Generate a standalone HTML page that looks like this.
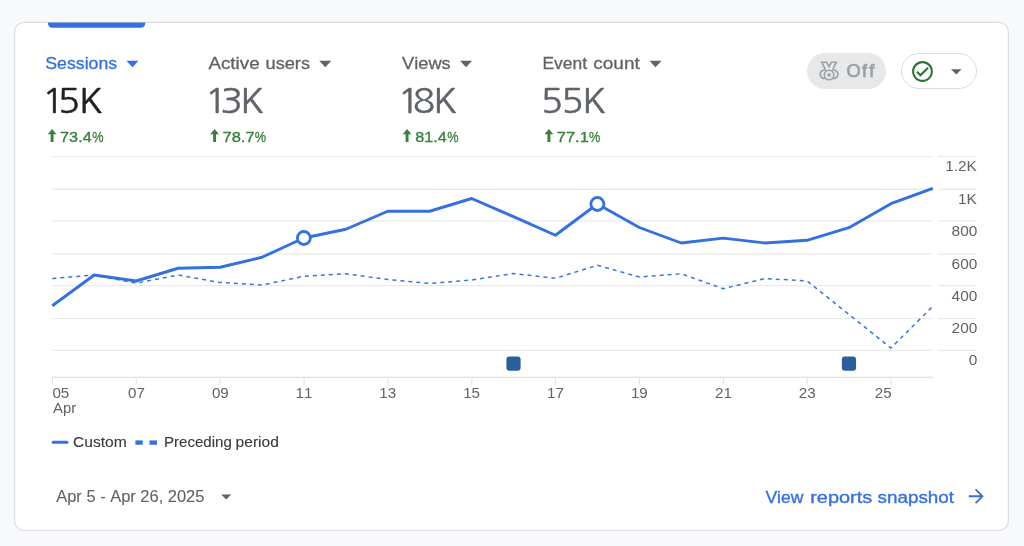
<!DOCTYPE html>
<html lang="en"><head><meta charset="utf-8"><title>Overview</title>
<style>
html,body{margin:0;padding:0}
body{width:1024px;height:546px;overflow:hidden;background:#f8f9fa;position:relative;font-family:"Liberation Sans",sans-serif;}
svg.abs{position:absolute;overflow:visible}
.chart{position:absolute;left:0;top:0}
.pill{position:absolute;left:807.4px;top:53px;width:78.6px;height:35.8px;border-radius:18px;background:#e7e8e9;}
.btn{position:absolute;left:901px;top:53px;width:74px;height:34px;border:1px solid #dadce0;border-radius:18px;background:#fff}
</style></head><body>
<svg class="abs" style="left:0;top:0" width="1024" height="546" viewBox="0 0 1024 546"><rect x="14.600" y="22.375" width="993.750" height="508" rx="9.500" fill="#fff" stroke="#dcdee2" stroke-width="1.250"/><path d="M47.900 22.400h97.400v0.800a4.500 4.500 0 0 1-4.500 4.500h-88.400a4.500 4.500 0 0 1-4.500-4.500z" fill="#3470e0"/></svg>
<div class="pill"></div>
<svg class="abs" style="left:0;top:0" width="1024" height="100" viewBox="0 0 1024 100" fill="none" stroke="#9da0a4" stroke-width="1.5">
 <path d="M825.300 69.300L821.800 62.250h4.900l2.350 4.300 2.350-4.300h4.900L832.800 69.300" stroke-linejoin="miter" stroke-width="1.6"/>
 <path d="M826 70.300a4.250 4.250 0 1 0 0 7.900M832.100 70.300a4.250 4.250 0 1 1 0 7.900" stroke-width="1.6"/>
 <circle cx="829.050" cy="75" r="4.750" fill="#e7e8e9" stroke-width="1.6"/>
 <path d="M829.050 72.300l.75 1.600 1.750.2-1.300 1.200.35 1.750-1.550-.9-1.550.9.350-1.750-1.300-1.200 1.750-.2z" fill="#9da0a4" stroke="none"/>
</svg>
<div class="btn"></div>
<svg class="abs" style="left:910.2px;top:58.75px" width="25" height="25" viewBox="0 0 24 24"><path fill="#2c7236" d="M12 2C6.480 2 2 6.480 2 12s4.480 10 10 10 10-4.480 10-10S17.520 2 12 2zm0 18c-4.410 0-8-3.590-8-8s3.590-8 8-8 8 3.590 8 8-3.590 8-8 8zm4.590-12.420L10 14.170l-2.590-2.580L6 13l4 4 8-8z"/></svg>
<svg class="abs" style="left:951px;top:68.9px" width="10.6" height="5.6" viewBox="0 0 10 5"><path fill="#5f6368" d="M0 0h10L5 5z"/></svg>

<svg class="chart" width="1024" height="546" viewBox="0 0 1024 546" font-family="'Liberation Sans', sans-serif" style="font-kerning:none">
<rect x="51.9" y="155.88" width="881" height="1.25" fill="#eaeaea"/>
<rect x="937.9" y="155.88" width="38.2" height="1.25" fill="#eaeaea"/>
<rect x="51.9" y="188.68" width="881" height="1.25" fill="#eaeaea"/>
<rect x="937.9" y="188.68" width="38.2" height="1.25" fill="#eaeaea"/>
<rect x="51.9" y="220.38" width="881" height="1.25" fill="#eaeaea"/>
<rect x="937.9" y="220.38" width="38.2" height="1.25" fill="#eaeaea"/>
<rect x="51.9" y="253.38" width="881" height="1.25" fill="#eaeaea"/>
<rect x="937.9" y="253.38" width="38.2" height="1.25" fill="#eaeaea"/>
<rect x="51.9" y="284.98" width="881" height="1.25" fill="#eaeaea"/>
<rect x="937.9" y="284.98" width="38.2" height="1.25" fill="#eaeaea"/>
<rect x="51.9" y="317.88" width="881" height="1.25" fill="#eaeaea"/>
<rect x="937.9" y="317.88" width="38.2" height="1.25" fill="#eaeaea"/>
<rect x="51.9" y="349.78" width="881" height="1.25" fill="#eaeaea"/>
<rect x="937.9" y="349.78" width="38.2" height="1.25" fill="#eaeaea"/>
<rect x="51.9" y="376.7" width="881" height="1.25" fill="#e0e0e0"/>
<rect x="51.90" y="377.3" width="1.1" height="7.4" fill="#e4e4e4"/>
<rect x="135.76" y="377.3" width="1.1" height="7.4" fill="#e4e4e4"/>
<rect x="219.61" y="377.3" width="1.1" height="7.4" fill="#e4e4e4"/>
<rect x="303.47" y="377.3" width="1.1" height="7.4" fill="#e4e4e4"/>
<rect x="387.33" y="377.3" width="1.1" height="7.4" fill="#e4e4e4"/>
<rect x="471.19" y="377.3" width="1.1" height="7.4" fill="#e4e4e4"/>
<rect x="555.04" y="377.3" width="1.1" height="7.4" fill="#e4e4e4"/>
<rect x="638.90" y="377.3" width="1.1" height="7.4" fill="#e4e4e4"/>
<rect x="722.76" y="377.3" width="1.1" height="7.4" fill="#e4e4e4"/>
<rect x="806.61" y="377.3" width="1.1" height="7.4" fill="#e4e4e4"/>
<rect x="890.47" y="377.3" width="1.1" height="7.4" fill="#e4e4e4"/>
<polyline points="52.30,278.50 94.23,275.00 136.16,283.25 178.09,275.00 220.01,282.50 261.94,285.00 303.87,276.25 345.80,273.75 387.73,279.50 429.66,283.50 471.59,280.00 513.51,273.50 555.44,278.25 597.37,265.25 639.30,277.00 681.23,273.75 723.16,288.70 765.09,278.50 807.01,281.00 848.94,314.50 890.87,348.00 932.80,306.30" fill="none" stroke="#3b74e0" stroke-width="1.5" stroke-dasharray="4 4"/>
<polyline points="52.30,305.75 94.23,275.00 136.16,281.00 178.09,268.25 220.01,267.25 261.94,257.25 303.87,238.00 345.80,229.25 387.73,211.25 429.66,211.25 471.59,198.50 513.51,216.70 555.44,235.25 597.37,204.00 639.30,227.50 681.23,243.00 723.16,238.10 765.09,243.00 807.01,240.30 848.94,227.70 890.87,203.70 932.80,188.40" fill="none" stroke="#3470e0" stroke-width="2.9" stroke-linejoin="round"/>
<circle cx="303.87" cy="238.00" r="6.5" fill="#fff" stroke="#3470e0" stroke-width="2.8"/>
<circle cx="597.37" cy="204.00" r="6.5" fill="#fff" stroke="#3470e0" stroke-width="2.8"/>
<rect x="506.41" y="356.6" width="14.2" height="14.2" rx="3" fill="#2a6099"/>
<rect x="841.84" y="356.6" width="14.2" height="14.2" rx="3" fill="#2a6099"/>
<text transform="translate(945.19 171.45) scale(1.0000 1)" font-size="15.40" fill="#5f6368">1.2K</text>
<text transform="translate(958.04 204.25) scale(1.0000 1)" font-size="15.40" fill="#5f6368">1K</text>
<text transform="translate(951.61 235.95) scale(1.0000 1)" font-size="15.40" fill="#5f6368">800</text>
<text transform="translate(951.61 268.95) scale(1.0000 1)" font-size="15.40" fill="#5f6368">600</text>
<text transform="translate(951.61 300.55) scale(1.0000 1)" font-size="15.40" fill="#5f6368">400</text>
<text transform="translate(951.61 333.45) scale(1.0000 1)" font-size="15.40" fill="#5f6368">200</text>
<text transform="translate(968.74 365.35) scale(1.0000 1)" font-size="15.40" fill="#5f6368">0</text>
<text transform="translate(52.41 397.55) scale(1.0200 1)" font-size="14.90" fill="#5f6368">05</text>
<text transform="translate(128.09 397.55) scale(1.0200 1)" font-size="14.90" fill="#5f6368">07</text>
<text transform="translate(211.92 397.55) scale(1.0200 1)" font-size="14.90" fill="#5f6368">09</text>
<text transform="translate(295.51 397.55) scale(1.0200 1)" font-size="14.90" fill="#5f6368">11</text>
<text transform="translate(379.33 397.55) scale(1.0200 1)" font-size="14.90" fill="#5f6368">13</text>
<text transform="translate(463.17 397.55) scale(1.0200 1)" font-size="14.90" fill="#5f6368">15</text>
<text transform="translate(547.09 397.55) scale(1.0200 1)" font-size="14.90" fill="#5f6368">17</text>
<text transform="translate(630.93 397.55) scale(1.0200 1)" font-size="14.90" fill="#5f6368">19</text>
<text transform="translate(714.99 397.55) scale(1.0200 1)" font-size="14.90" fill="#5f6368">21</text>
<text transform="translate(798.81 397.55) scale(1.0200 1)" font-size="14.90" fill="#5f6368">23</text>
<text transform="translate(874.73 397.55) scale(1.0200 1)" font-size="14.90" fill="#5f6368">25</text>
<text transform="translate(52.97 412.70) scale(0.9996 1)" font-size="14.90" fill="#5f6368">Apr</text>
<text transform="translate(45.29 68.60) scale(1.0190 1)" font-size="17.40" fill="#3470e0" stroke="#3470e0" stroke-width="0.30">Sessions</text>
<text transform="translate(208.46 68.60) scale(1.0800 1)" font-size="17.40" fill="#5f6368" stroke="#5f6368" stroke-width="0.30">Active</text>
<text transform="translate(265.52 68.60) scale(1.0468 1)" font-size="17.40" fill="#5f6368" stroke="#5f6368" stroke-width="0.30">users</text>
<text transform="translate(402.02 68.60) scale(1.0501 1)" font-size="17.40" fill="#5f6368" stroke="#5f6368" stroke-width="0.30">Views</text>
<text transform="translate(542.47 68.60) scale(1.0014 1)" font-size="17.40" fill="#5f6368" stroke="#5f6368" stroke-width="0.30">Event</text>
<text transform="translate(593.29 68.60) scale(1.0912 1)" font-size="17.40" fill="#5f6368" stroke="#5f6368" stroke-width="0.30">count</text>
<text transform="scale(1.0900 1)" x="38.56 52.98 72.18" y="113.40" font-size="34.00" fill="#202124" stroke="#202124" stroke-width="0.45" font-family="NanumGothic, 'Liberation Sans', sans-serif">15K</text>
<text transform="scale(1.0900 1)" x="187.90 202.20 220.11" y="113.40" font-size="34.00" fill="#5f6368" stroke="#5f6368" stroke-width="0.45" font-family="NanumGothic, 'Liberation Sans', sans-serif">13K</text>
<text transform="scale(1.0900 1)" x="364.57 378.75 397.31" y="113.40" font-size="34.00" fill="#5f6368" stroke="#5f6368" stroke-width="0.45" font-family="NanumGothic, 'Liberation Sans', sans-serif">18K</text>
<text transform="scale(1.0900 1)" x="496.19 514.82 533.87" y="113.40" font-size="34.00" fill="#5f6368" stroke="#5f6368" stroke-width="0.45" font-family="NanumGothic, 'Liberation Sans', sans-serif">55K</text>
<text transform="translate(60.07 141.75) scale(1.0900 1)" font-size="14.90" fill="#38803d" stroke="#38803d" stroke-width="0.35">73.4</text>
<text transform="translate(92.15 141.75) scale(0.8534 1)" font-size="14.90" fill="#38803d" stroke="#38803d" stroke-width="0.30">%</text>
<path fill="#38803d" d="M52.10 128.9l4.4 5.4h-2.95v7.6h-2.9v-7.6h-2.95z"/>
<text transform="translate(222.56 141.75) scale(1.1024 1)" font-size="14.90" fill="#38803d" stroke="#38803d" stroke-width="0.35">78.7</text>
<text transform="translate(254.65 141.75) scale(0.8534 1)" font-size="14.90" fill="#38803d" stroke="#38803d" stroke-width="0.30">%</text>
<path fill="#38803d" d="M214.60 128.9l4.4 5.4h-2.95v7.6h-2.9v-7.6h-2.95z"/>
<text transform="translate(415.20 141.75) scale(1.0854 1)" font-size="14.90" fill="#38803d" stroke="#38803d" stroke-width="0.35">81.4</text>
<text transform="translate(447.15 141.75) scale(0.8534 1)" font-size="14.90" fill="#38803d" stroke="#38803d" stroke-width="0.30">%</text>
<path fill="#38803d" d="M407.10 128.9l4.4 5.4h-2.95v7.6h-2.9v-7.6h-2.95z"/>
<text transform="translate(556.86 141.75) scale(1.1015 1)" font-size="14.90" fill="#38803d" stroke="#38803d" stroke-width="0.35">77.1</text>
<text transform="translate(588.95 141.75) scale(0.8534 1)" font-size="14.90" fill="#38803d" stroke="#38803d" stroke-width="0.30">%</text>
<path fill="#38803d" d="M548.90 128.9l4.4 5.4h-2.95v7.6h-2.9v-7.6h-2.95z"/>
<path fill="#3470e0" d="M126.40 60.8h12.1l-6.05 6.4z"/>
<path fill="#5f6368" d="M319.20 60.8h12.1l-6.05 6.4z"/>
<path fill="#5f6368" d="M460.00 60.8h12.1l-6.05 6.4z"/>
<path fill="#5f6368" d="M649.50 60.8h12.1l-6.05 6.4z"/>
<text transform="scale(1.0000 1)" x="846.39 862.01 869.31" y="76.50" font-size="18.30" fill="#9da0a4" stroke="#9da0a4" stroke-width="0.70">Off</text>
<text transform="translate(72.96 447.00) scale(1.0211 1)" font-size="15.30" fill="#38393c" stroke="#38393c" stroke-width="0.12">Custom</text>
<text transform="translate(163.96 447.00) scale(0.9857 1)" font-size="15.30" fill="#38393c" stroke="#38393c" stroke-width="0.12">Preceding</text>
<text transform="translate(235.60 447.00) scale(1.0183 1)" font-size="15.30" fill="#38393c" stroke="#38393c" stroke-width="0.12">period</text>
<rect x="51.7" y="440.7" width="16.7" height="3.1" rx="1.55" fill="#3470e0"/>
<rect x="135.4" y="440.4" width="7.35" height="4.35" fill="#3470e0"/>
<rect x="149.5" y="440.4" width="7.5" height="4.35" fill="#3470e0"/>
<text transform="translate(56.22 502.00) scale(1.0160 1)" font-size="16.20" fill="#5f6368" stroke="#5f6368" stroke-width="0.10">Apr 5 - Apr 26, 2025</text>
<path fill="#5f6368" d="M221.2 494.5h10l-5 5z"/>
<text transform="translate(765.42 502.50) scale(1.0262 1)" font-size="17.10" fill="#3470e0" stroke="#3470e0" stroke-width="0.35">View</text>
<text transform="translate(810.18 502.50) scale(1.1658 1)" font-size="17.10" fill="#3470e0" stroke="#3470e0" stroke-width="0.35">reports</text>
<text transform="translate(877.47 502.50) scale(1.1046 1)" font-size="17.10" fill="#3470e0" stroke="#3470e0" stroke-width="0.35">snapshot</text>
</svg>

<svg class="abs" style="left:964.7px;top:485.35px" width="22.5" height="22.5" viewBox="0 0 24 24"><path fill="#3470e0" d="M12 4l-1.410 1.410L16.170 11H4v2h12.170l-5.580 5.590L12 20l8-8z"/></svg>
</body></html>
